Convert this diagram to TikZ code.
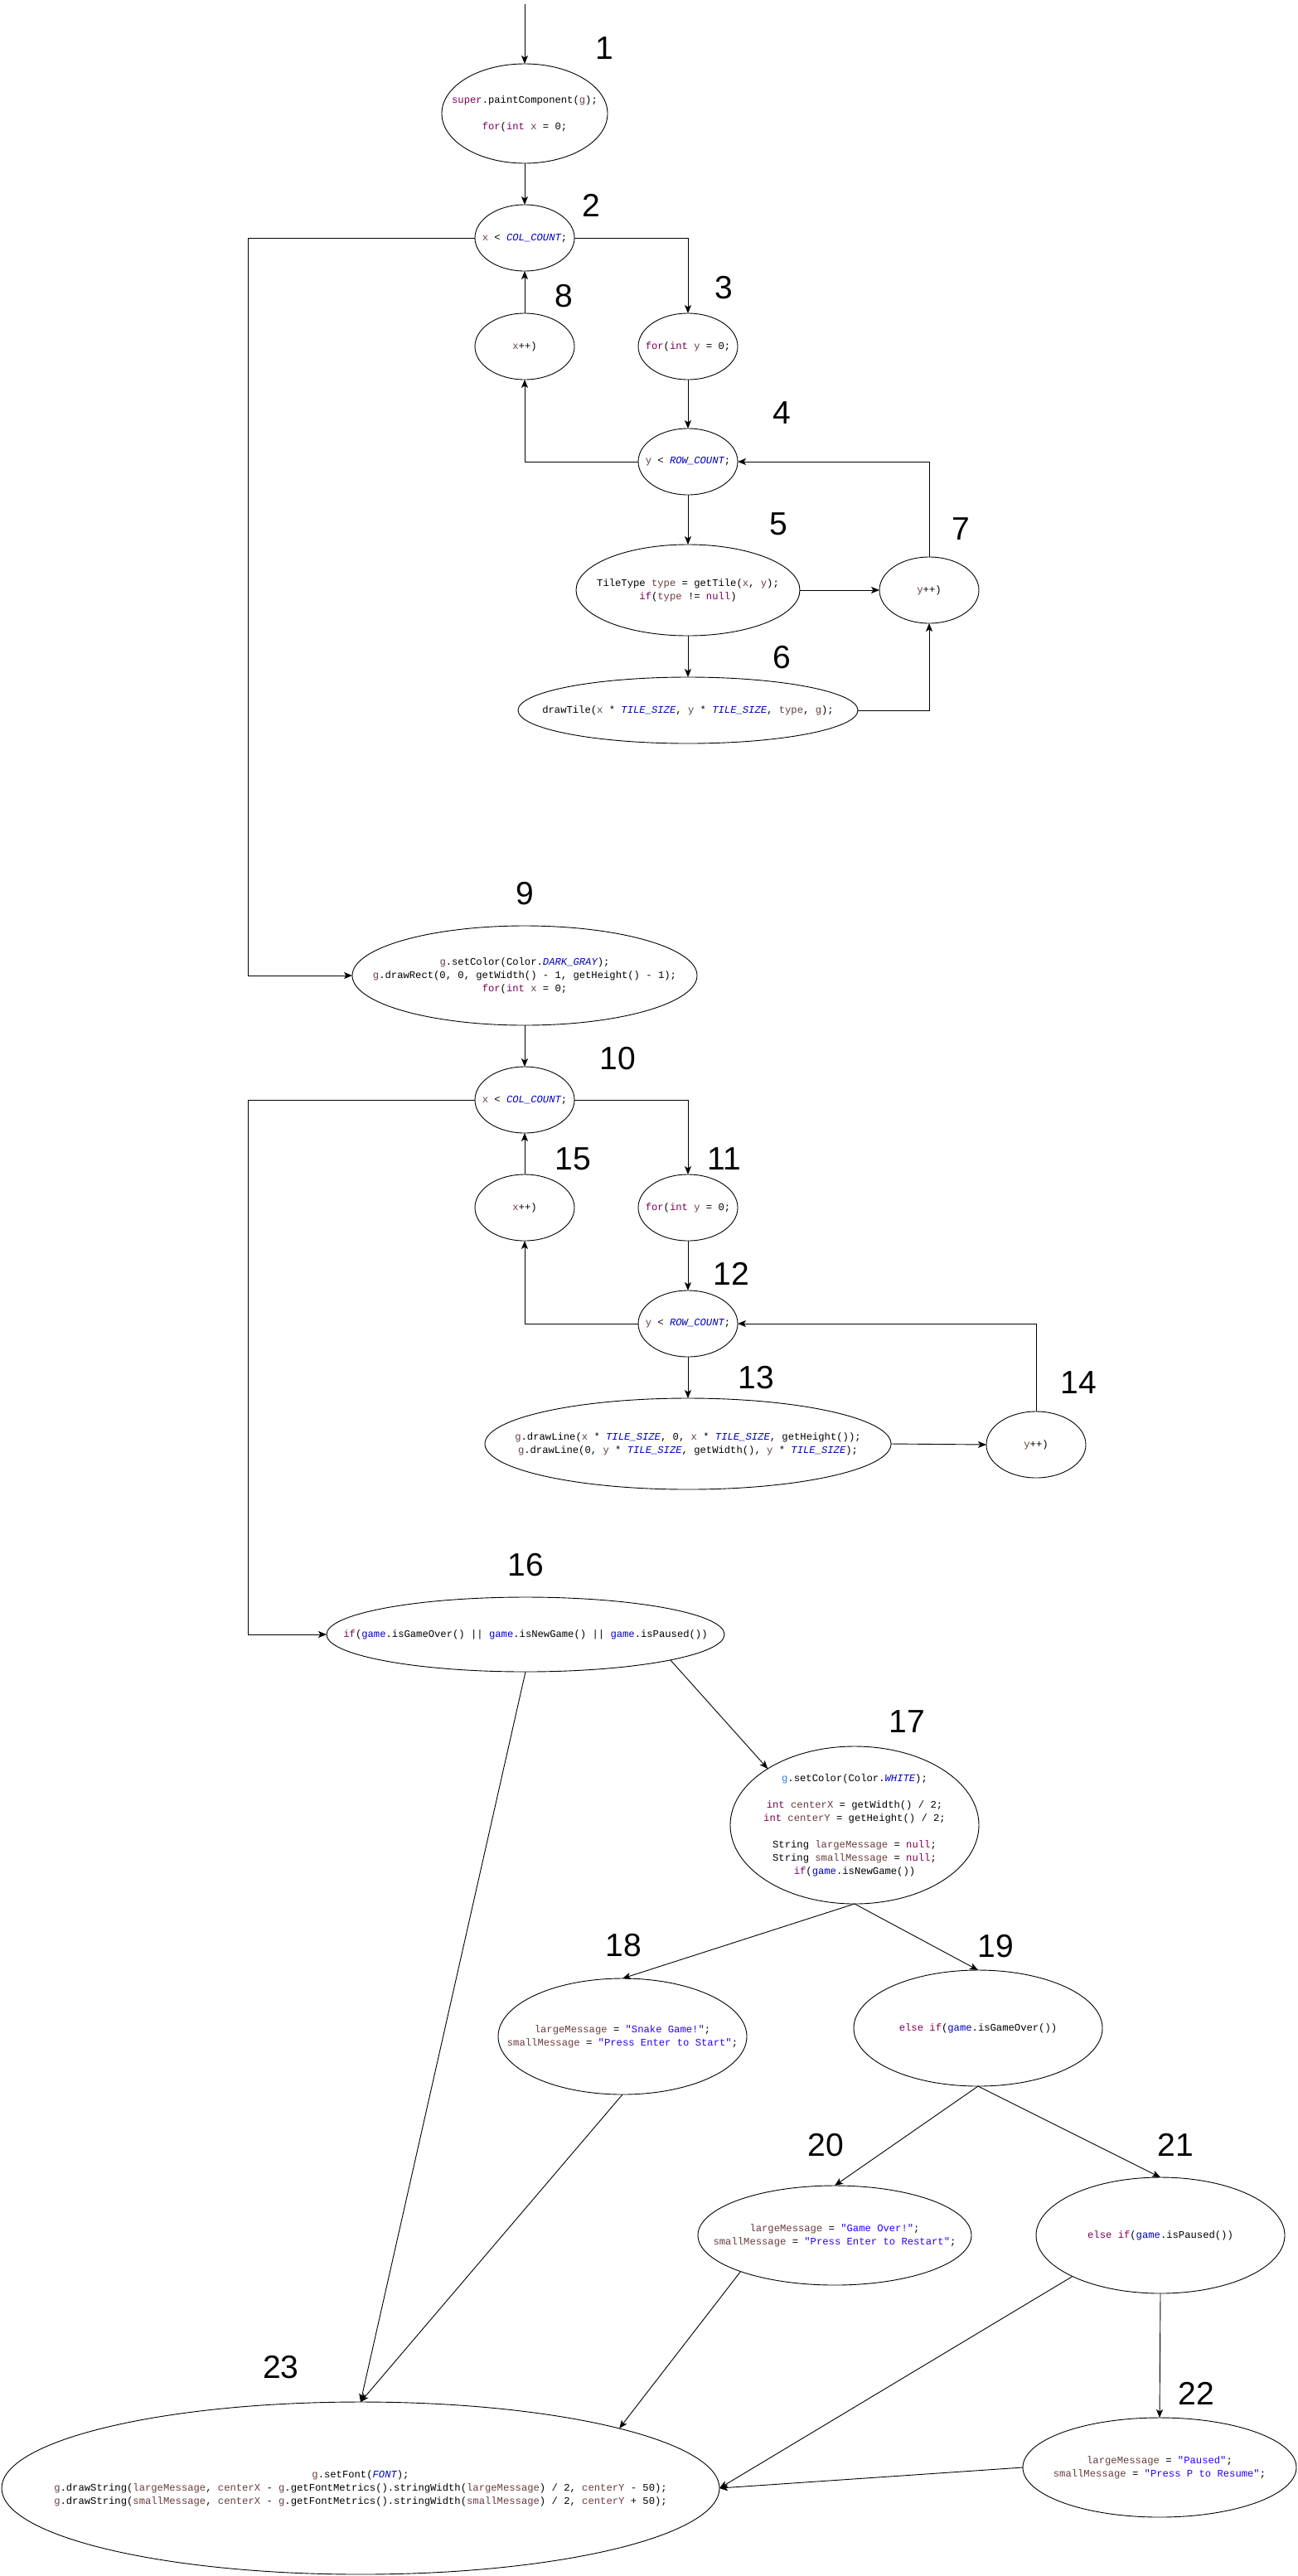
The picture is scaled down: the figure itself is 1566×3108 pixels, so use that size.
\documentclass[tikz,border=0pt]{standalone}
\usepackage{fontspec}
\setmainfont{Liberation Sans}
\setmonofont{Liberation Mono}
\usetikzlibrary{shapes.geometric,arrows.meta}

\definecolor{kwc}{RGB}{127,0,85}
\definecolor{varc}{RGB}{106,62,62}
\definecolor{cstc}{RGB}{0,0,192}
\definecolor{strc}{RGB}{42,0,255}
\definecolor{hlc}{RGB}{45,125,225}

\newcommand{\kw}[1]{\textcolor{kwc}{#1}}
\newcommand{\vr}[1]{\textcolor{varc}{#1}}
\newcommand{\cnst}[1]{\textcolor{cstc}{\itshape #1}}
\newcommand{\fld}[1]{\textcolor{cstc}{#1}}
\newcommand{\strg}[1]{\textcolor{strc}{#1}}
\newcommand{\hlg}[1]{\textcolor{hlc}{#1}}

\tikzset{
  ell/.style={ellipse, draw, line width=0.9pt, inner sep=0pt, outer sep=0pt},
  code/.style={font=\fontsize{12.2}{16}\selectfont\ttfamily, align=center, inner sep=0pt},
  num/.style={font=\fontsize{39}{40}\selectfont, inner sep=0pt},
  flow/.style={draw, line width=0.9pt, -{Stealth[length=10pt,width=8pt,inset=2.5pt]}},
}

\begin{document}
\begin{tikzpicture}[x=1pt, y=-1pt]
\fill[white] (0,0) rectangle (1566,3108);
\useasboundingbox (0,0) rectangle (1566,3108);

% ---- first double loop: drawing the tiles ----
\node[ell, minimum width=200pt, minimum height=120pt] (n1) at (633,137) {};
\node[code] (t1) at (n1) {\kw{super}.paintComponent(\vr{g});\\[16pt]\kw{for}(\kw{int} \vr{x} = 0;};

\node[ell, minimum width=120pt, minimum height=80pt] (n2) at (633,287) {};
\node[code] (t2) at (n2) {\vr{x} < \cnst{COL\_COUNT};};

\node[ell, minimum width=120pt, minimum height=80pt] (n8) at (633,418) {};
\node[code] (t8) at (n8) {\vr{x}++)};

\node[ell, minimum width=120pt, minimum height=80pt] (n3) at (830,418) {};
\node[code] (t3) at (n3) {\kw{for}(\kw{int} \vr{y} = 0;};

\node[ell, minimum width=120pt, minimum height=80pt] (n4) at (830,557) {};
\node[code] (t4) at (n4) {\vr{y} < \cnst{ROW\_COUNT};};

\node[ell, minimum width=270pt, minimum height=110pt] (n5) at (830,712) {};
\node[code] (t5) at (n5) {TileType \vr{type} = getTile(\vr{x}, \vr{y});\\\kw{if}(\vr{type} != \kw{null})};

\node[ell, minimum width=120pt, minimum height=80pt] (n7) at (1121,712) {};
\node[code] (t7) at (n7) {\vr{y}++)};

\node[ell, minimum width=410pt, minimum height=80pt] (n6) at (830,857) {};
\node[code] (t6) at (n6) {drawTile(\vr{x} * \cnst{TILE\_SIZE}, \vr{y} * \cnst{TILE\_SIZE}, \vr{type}, \vr{g});};

% ---- second double loop: the grid lines ----
\node[ell, minimum width=416pt, minimum height=120pt] (n9) at (633,1177) {};
\node[code] (t9) at (n9) {\vr{g}.setColor(Color.\cnst{DARK\_GRAY});\\\vr{g}.drawRect(0, 0, getWidth() - 1, getHeight() - 1);\\\kw{for}(\kw{int} \vr{x} = 0;};

\node[ell, minimum width=120pt, minimum height=80pt] (n10) at (633,1327) {};
\node[code] (t10) at (n10) {\vr{x} < \cnst{COL\_COUNT};};

\node[ell, minimum width=120pt, minimum height=80pt] (n15) at (633,1457) {};
\node[code] (t15) at (n15) {\vr{x}++)};

\node[ell, minimum width=120pt, minimum height=80pt] (n11) at (830,1457) {};
\node[code] (t11) at (n11) {\kw{for}(\kw{int} \vr{y} = 0;};

\node[ell, minimum width=120pt, minimum height=80pt] (n12) at (830,1597) {};
\node[code] (t12) at (n12) {\vr{y} < \cnst{ROW\_COUNT};};

\node[ell, minimum width=490pt, minimum height=110pt] (n13) at (830,1742) {};
\node[code] (t13) at (n13) {\vr{g}.drawLine(\vr{x} * \cnst{TILE\_SIZE}, 0, \vr{x} * \cnst{TILE\_SIZE}, getHeight());\\\vr{g}.drawLine(0, \vr{y} * \cnst{TILE\_SIZE}, getWidth(), \vr{y} * \cnst{TILE\_SIZE});};

\node[ell, minimum width=120pt, minimum height=80pt] (n14) at (1250,1743) {};
\node[code] (t14) at (n14) {\vr{y}++)};

% ---- messages ----
\node[ell, minimum width=480pt, minimum height=90pt] (n16) at (634,1972) {};
\node[code] (t16) at (n16) {\kw{if}(\fld{game}.isGameOver() || \fld{game}.isNewGame() || \fld{game}.isPaused())};

\node[ell, minimum width=300pt, minimum height=190pt] (n17) at (1031,2202) {};
\node[code] (t17) at (n17) {\hlg{g}.setColor(Color.\cnst{WHITE});\\[16pt]\kw{int} \vr{centerX} = getWidth() / 2;\\\kw{int} \vr{centerY} = getHeight() / 2;\\[16pt]String \vr{largeMessage} = \kw{null};\\String \vr{smallMessage} = \kw{null};\\\kw{if}(\fld{game}.isNewGame())};

\node[ell, minimum width=300pt, minimum height=140pt] (n18) at (751,2457) {};
\node[code] (t18) at (n18) {\vr{largeMessage} = \strg{"Snake Game!"};\\\vr{smallMessage} = \strg{"Press Enter to Start"};};

\node[ell, minimum width=300pt, minimum height=140pt] (n19) at (1180,2447) {};
\node[code] (t19) at (n19) {\kw{else} \kw{if}(\fld{game}.isGameOver())};

\node[ell, minimum width=330pt, minimum height=120pt] (n20) at (1007,2697) {};
\node[code] (t20) at (n20) {\vr{largeMessage} = \strg{"Game Over!"};\\\vr{smallMessage} = \strg{"Press Enter to Restart"};};

\node[ell, minimum width=300pt, minimum height=140pt] (n21) at (1400,2697) {};
\node[code] (t21) at (n21) {\kw{else} \kw{if}(\fld{game}.isPaused())};

\node[ell, minimum width=330pt, minimum height=120pt] (n22) at (1399,2977) {};
\node[code] (t22) at (n22) {\vr{largeMessage} = \strg{"Paused"};\\\vr{smallMessage} = \strg{"Press P to Resume"};};

\node[ell, minimum width=866pt, minimum height=208pt] (n23) at (435,3002) {};
\node[code] (t23) at (n23) {\vr{g}.setFont(\cnst{FONT});\\\vr{g}.drawString(\vr{largeMessage}, \vr{centerX} - \vr{g}.getFontMetrics().stringWidth(\vr{largeMessage}) / 2, \vr{centerY} - 50);\\\vr{g}.drawString(\vr{smallMessage}, \vr{centerX} - \vr{g}.getFontMetrics().stringWidth(\vr{smallMessage}) / 2, \vr{centerY} + 50);};

% ---- step numbers ----
\node[num] (l1) at (729,58) {1};
\node[num] (l2) at (713,248) {2};
\node[num] (l3) at (873,347) {3};
\node[num] (l4) at (943,498) {4};
\node[num] (l5) at (939,632) {5};
\node[num] (l6) at (943,793) {6};
\node[num] (l7) at (1159,638) {7};
\node[num] (l8) at (680,357) {8};
\node[num] (l9) at (633,1078) {9};
\node[num] (l10) at (745,1277) {10};
\node[num] (l11) at (874,1398) {11};
\node[num] (l12) at (882,1537) {12};
\node[num] (l13) at (912,1662) {13};
\node[num] (l14) at (1301,1668) {14};
\node[num] (l15) at (691,1398) {15};
\node[num] (l16) at (634,1888) {16};
\node[num] (l17) at (1094,2077) {17};
\node[num] (l18) at (752,2347) {18};
\node[num] (l19) at (1201,2348) {19};
\node[num] (l20) at (996,2588) {20};
\node[num] (l21) at (1418,2588) {21};
\node[num] (l22) at (1443,2888) {22};
\node[num] (l23) at (339,2856) {23};

% ---- connectors ----
\coordinate (entry) at (633,5);
\coordinate (loopL) at (299,0);

\draw[flow] (entry) -- (n1.north);
\draw[flow] (n1.south) -- (n2.north);
\draw[flow] (n2.east) -| (n3.north);
\draw[flow] (n3.south) -- (n4.north);
\draw[flow] (n4.west) -| (n8.south);
\draw[flow] (n8.north) -- (n2.south);
\draw[flow] (n4.south) -- (n5.north);
\draw[flow] (n5.east) -- (n7.west);
\draw[flow] (n5.south) -- (n6.north);
\draw[flow] (n6.east) -| (n7.south);
\draw[flow] (n7.north) |- (n4.east);
\draw[flow] (n2.west) -- (n2.west -| loopL) |- (n9.west);

\draw[flow] (n9.south) -- (n10.north);
\draw[flow] (n10.east) -| (n11.north);
\draw[flow] (n11.south) -- (n12.north);
\draw[flow] (n12.west) -| (n15.south);
\draw[flow] (n15.north) -- (n10.south);
\draw[flow] (n12.south) -- (n13.north);
\draw[flow] (n13.east) -- (n14.west);
\draw[flow] (n14.north) |- (n12.east);
\draw[flow] (n10.west) -- (n10.west -| loopL) |- (n16.west);

\draw[flow] (n16.-10.6) -- (n17.147.7);
\draw[flow] (n16.south) -- (n23.north);
\draw[flow] (n17.south) -- (n18.north);
\draw[flow] (n17.south) -- (n19.north);
\draw[flow] (n18.south) -- (n23.north);
\draw[flow] (n19.south) -- (n20.north);
\draw[flow] (n19.south) -- (n21.north);
\draw[flow] (n21.south) -- (n22.north);
\draw[flow] (n20.201) -- (n23.13.7);
\draw[flow] (n21.205) -- (n23.east);
\draw[flow] (n22.west) -- (n23.east);
\end{tikzpicture}
\end{document}
